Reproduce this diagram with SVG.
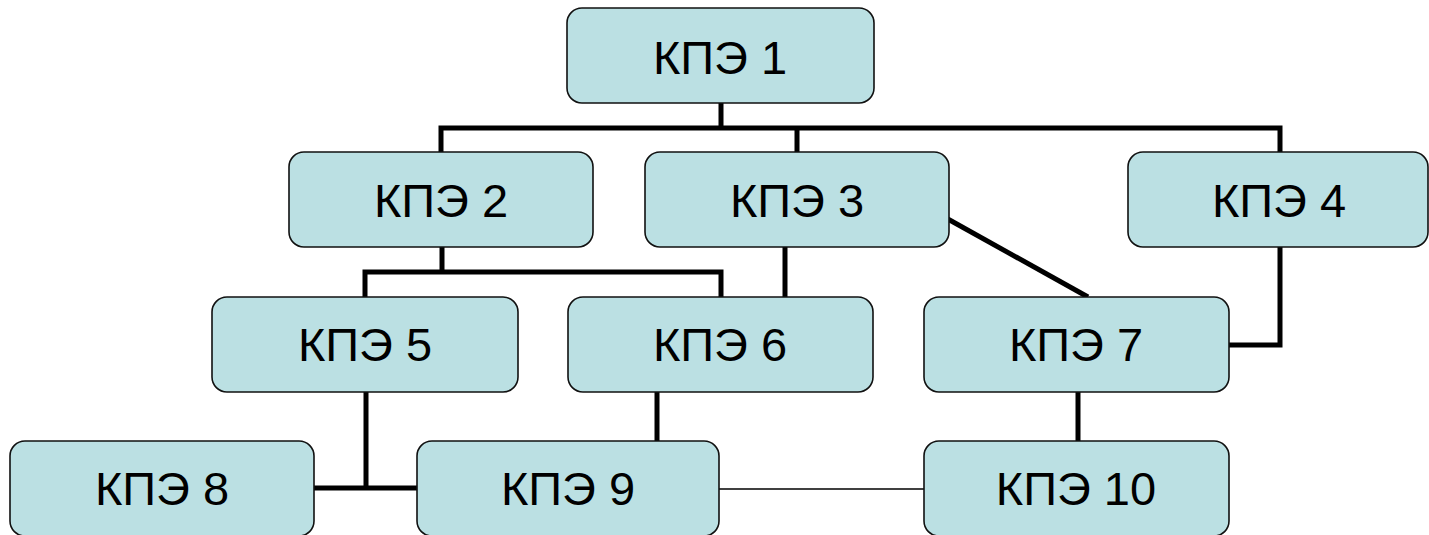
<svg xmlns="http://www.w3.org/2000/svg" width="1429" height="535" viewBox="0 0 1429 535">
<style>
.n rect{fill:#BBE0E3;stroke:#111;stroke-width:1.6}
.n text{font-family:"Liberation Sans",Arial,sans-serif;font-size:47px;fill:#000;text-anchor:middle}
.c{fill:none;stroke:#000;stroke-width:5;stroke-linejoin:miter;stroke-linecap:butt}
.t{fill:none;stroke:#000;stroke-width:1.5}
</style>
<rect width="1429" height="535" fill="#fff"/>
<g id="connectors">
<path class="c" d="M721,103 V128 M441,152 V128 H1280 V152 M797,128 V152"/>
<path class="c" d="M442,247 V272 M365,297 V272 H721 V297"/>
<path class="c" d="M785,247 V297"/>
<path class="c" d="M946,218 L1088,297"/>
<path class="c" d="M1280,247 V345 H1229"/>
<path class="c" d="M366,392 V489 M314,488 H417"/>
<path class="c" d="M657,392 V441"/>
<path class="c" d="M1078,392 V441"/>
<path class="t" d="M719,489 H930"/>
</g>
<g id="kpe1" class="n"><rect x="567" y="8" width="307" height="95" rx="15"/><text x="720" y="74">КПЭ 1</text></g>
<g id="kpe2" class="n"><rect x="289" y="152" width="304" height="95" rx="15"/><text x="441" y="217">КПЭ 2</text></g>
<g id="kpe3" class="n"><rect x="645" y="152" width="304" height="95" rx="15"/><text x="797" y="217">КПЭ 3</text></g>
<g id="kpe4" class="n"><rect x="1128" y="152" width="300" height="95" rx="15"/><text x="1279" y="217">КПЭ 4</text></g>
<g id="kpe5" class="n"><rect x="212" y="297" width="306" height="95" rx="15"/><text x="365" y="361">КПЭ 5</text></g>
<g id="kpe6" class="n"><rect x="568" y="297" width="305" height="95" rx="15"/><text x="720" y="361">КПЭ 6</text></g>
<g id="kpe7" class="n"><rect x="924" y="297" width="305" height="95" rx="15"/><text x="1076" y="361">КПЭ 7</text></g>
<g id="kpe8" class="n"><rect x="10" y="441" width="304" height="95" rx="15"/><text x="162" y="505">КПЭ 8</text></g>
<g id="kpe9" class="n"><rect x="417" y="441" width="302" height="95" rx="15"/><text x="568" y="505">КПЭ 9</text></g>
<g id="kpe10" class="n"><rect x="924" y="441" width="305" height="95" rx="15"/><text x="1076" y="505">КПЭ 10</text></g>
</svg>
